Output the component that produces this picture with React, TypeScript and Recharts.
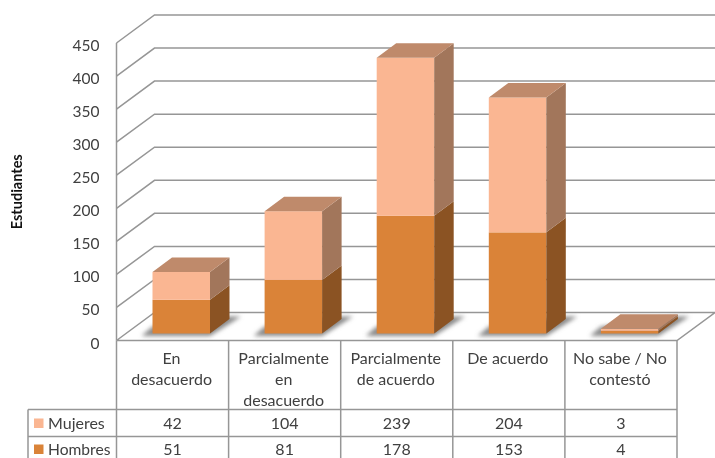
import { BarChart, Bar, XAxis, YAxis, CartesianGrid } from 'recharts';

const categories = ['En desacuerdo', 'Parcialmente en desacuerdo', 'Parcialmente de acuerdo', 'De acuerdo', 'No sabe / No contestó'];
const categoryLines = [['En', 'desacuerdo'], ['Parcialmente', 'en', 'desacuerdo'], ['Parcialmente', 'de acuerdo'], ['De acuerdo'], ['No sabe / No', 'contestó']];
const mujeres = [42, 104, 239, 204, 3];
const hombres = [51, 81, 178, 153, 4];
const yTicks = [0, 50, 100, 150, 200, 250, 300, 350, 400, 450];

const data = categories.map((name, i) => ({ name, mujeres: mujeres[i], hombres: hombres[i] }));

const FONT = 'Lato, sans-serif';
const TEXT = '#404040';
const LINE = '#969696';
const WIDTH = 715;
const HEIGHT = 458;
const LEFT = 116.5;
const RIGHT = 38;
const TOP = 43;
const BOTTOM = 117.5;
const BAND = (WIDTH - LEFT - RIGHT) / categories.length;
// depth of the fake 3d floor and of the bars
const WALL_X = 38;
const WALL_Y = 28;
const DEPTH_X = 19.5;
const DEPTH_Y = 14.5;
const SHIFT_X = 9;
const SHIFT_Y = -7;

function WallLine(props: any) {
  const { x1, x2, y1 } = props;
  const floor = props.index === 0 ? ` ${x2},${y1} ${x1},${y1}` : '';
  return (
    <polyline
      points={`${x1},${y1} ${x1 + WALL_X},${y1 - WALL_Y} ${x2 + WALL_X},${y1 - WALL_Y}${floor}`}
      fill="none"
      stroke={LINE}
      strokeWidth={1.5}
    />
  );
}

function makeBox(front: string, side: string, top: string | null, withShadow: boolean) {
  return (props: any) => {
    const x = props.x + SHIFT_X;
    const y = props.y + SHIFT_Y;
    const w = props.width;
    const h = props.height;
    const b = y + h;
    return (
      <g>
        {withShadow && (
          <polygon
            points={`${x - 11},${b + 2.5} ${x + w},${b + 2.5} ${x + w + 31},${b - 17} ${x + w + 19},${b - 17} ${x},${b - 7}`}
            fill="#8a8a8a"
            filter="url(#soft)"
          />
        )}
        <rect x={x} y={y} width={w} height={h} fill={front} />
        <polygon points={`${x + w},${y} ${x + w + DEPTH_X},${y - DEPTH_Y} ${x + w + DEPTH_X},${b - DEPTH_Y} ${x + w},${b}`} fill={side} />
        {top && (
          <polygon points={`${x},${y} ${x + DEPTH_X},${y - DEPTH_Y} ${x + w + DEPTH_X},${y - DEPTH_Y} ${x + w},${y}`} fill={top} />
        )}
      </g>
    );
  };
}

const HombresBox = makeBox('#da8338', '#8b5323', null, true);
const MujeresBox = makeBox('#fab692', '#a2765b', '#bf8a6b', false);

function TableTick(props: any) {
  const { x, index } = props;
  const y0 = TOP + (HEIGHT - TOP - BOTTOM);
  const row1 = y0 + 69;
  const row2 = y0 + 96;
  const left = x - BAND / 2;
  const right = x + BAND / 2;
  const common = { fontFamily: FONT, fontSize: 16, fill: TEXT, textAnchor: 'middle' as const };
  return (
    <g>
      <line x1={right} x2={right} y1={y0} y2={HEIGHT} stroke={LINE} strokeWidth={1.5} />
      {index === 0 && (
        <g>
          <line x1={left} x2={left} y1={y0} y2={HEIGHT} stroke={LINE} strokeWidth={1.5} />
          <line x1={28} x2={28} y1={row1} y2={HEIGHT} stroke={LINE} strokeWidth={1.5} />
          <line x1={28} x2={WIDTH - RIGHT} y1={row1} y2={row1} stroke={LINE} strokeWidth={1.5} />
          <line x1={28} x2={WIDTH - RIGHT} y1={row2} y2={row2} stroke={LINE} strokeWidth={1.5} />
          <rect x={34} y={row1 + 9} width={9.5} height={9.5} fill="#fab692" />
          <text x={48} y={row1 + 19} fontFamily={FONT} fontSize={16} fill={TEXT}>Mujeres</text>
          <rect x={34} y={row2 + 8} width={9.5} height={9.5} fill="#da8338" />
          <text x={48} y={row2 + 18} fontFamily={FONT} fontSize={15.6} fill={TEXT}>Hombres</text>
        </g>
      )}
      {categoryLines[index].map((line, i) => (
        <text key={line} x={x - 1} y={y0 + 23 + i * 21} {...common}>{line}</text>
      ))}
      <text x={x} y={row1 + 19} {...common}>{mujeres[index]}</text>
      <text x={x} y={row2 + 18} {...common}>{hombres[index]}</text>
    </g>
  );
}

export default function App() {
  return (
    <div style={{ position: 'absolute', left: 0, top: 0, filter: 'blur(0.35px)' }}>
      <BarChart
        width={WIDTH}
        height={HEIGHT}
        data={data}
        margin={{ top: TOP, right: RIGHT, bottom: 0, left: 0 }}
      >
        <defs>
          <filter id="soft" x="-20%" y="-40%" width="140%" height="180%">
            <feGaussianBlur stdDeviation="2" />
          </filter>
        </defs>
        <CartesianGrid vertical={false} horizontal={(p: any) => <WallLine key={p.index} {...p} />} />
        <XAxis dataKey="name" height={BOTTOM} axisLine={false} tickLine={false} interval={0} tick={(p: any) => <TableTick {...p} />} />
        <YAxis
          width={LEFT}
          domain={[0, 450]}
          ticks={yTicks}
          interval={0}
          axisLine={{ stroke: LINE, strokeWidth: 1.5 }}
          tickLine={false}
          tickMargin={11}
          tick={{ fontSize: 15.5, fill: TEXT, fontFamily: FONT, dy: 2.5 }}
          label={{ value: 'Estudiantes', angle: -90, position: 'insideLeft', offset: 17, style: { textAnchor: 'middle', fontFamily: FONT, fontSize: 14.5, fontWeight: 700, fill: '#111' } }}
        />
        <Bar dataKey="hombres" stackId="a" barSize={57.5} shape={HombresBox} isAnimationActive={false} />
        <Bar dataKey="mujeres" stackId="a" barSize={57.5} shape={MujeresBox} isAnimationActive={false} />
      </BarChart>
    </div>
  );
}
